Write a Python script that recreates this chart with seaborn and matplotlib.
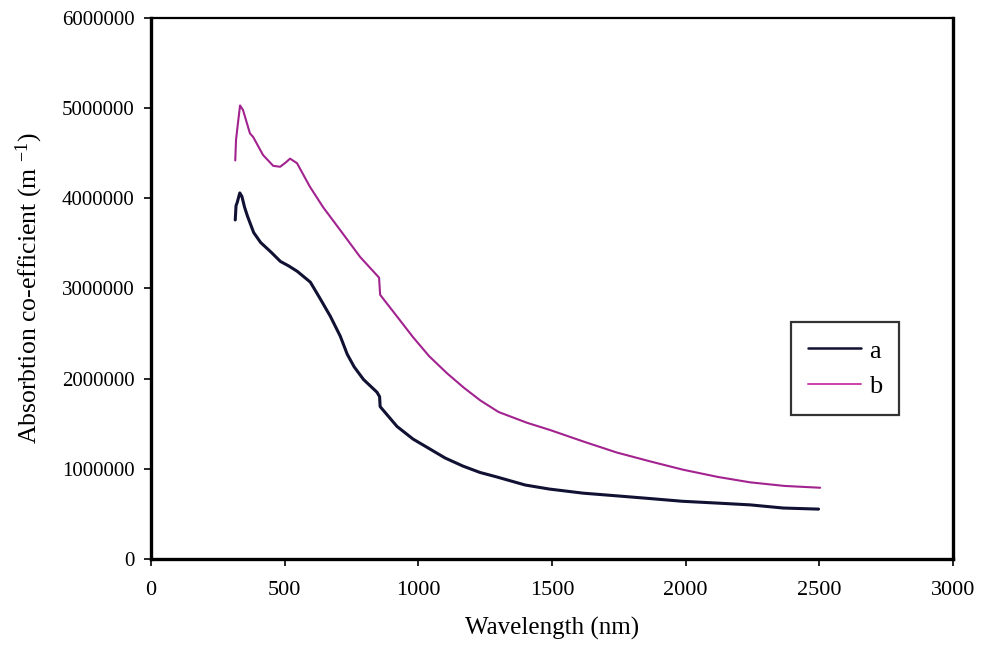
import matplotlib
matplotlib.use("Agg")
import matplotlib.pyplot as plt
from matplotlib.ticker import FuncFormatter, MultipleLocator
from matplotlib.lines import Line2D
import seaborn as sns
import pandas as pd

# ---- data ----
wavelength_a = [315, 318, 322, 332, 340, 350, 361, 384, 410, 450, 484, 515, 547, 596, 634,
                671, 708, 734, 760, 795, 845, 855, 857, 920, 980, 1043, 1100, 1167, 1230,
                1293, 1400, 1491, 1616, 1743, 1867, 1987, 2117, 2241, 2365, 2497]
absorption_a = [3760000, 3920000, 3950000, 4060000, 4020000, 3900000, 3800000, 3620000,
                3510000, 3400000, 3300000, 3250000, 3190000, 3070000, 2880000, 2690000,
                2470000, 2270000, 2130000, 1990000, 1850000, 1800000, 1690000, 1470000,
                1330000, 1220000, 1120000, 1030000, 960000, 910000, 820000, 775000,
                730000, 700000, 670000, 640000, 620000, 600000, 565000, 553000]

wavelength_b = [315, 318, 325, 333, 344, 370, 382, 419, 457, 483, 505, 520, 546, 594,
                644, 707, 782, 853, 857, 920, 980, 1040, 1107, 1170, 1231, 1300, 1407,
                1493, 1620, 1743, 1870, 1990, 2120, 2241, 2370, 2503]
absorption_b = [4420000, 4650000, 4830000, 5030000, 4980000, 4720000, 4680000, 4480000,
                4360000, 4350000, 4400000, 4440000, 4390000, 4130000, 3900000, 3650000,
                3350000, 3120000, 2930000, 2690000, 2460000, 2250000, 2060000, 1900000,
                1760000, 1630000, 1510000, 1430000, 1300000, 1180000, 1080000, 990000,
                910000, 850000, 810000, 790000]

series_names = ["a", "b"]
series_colors = {"a": "#111133", "b": "#a2238f"}

df = pd.concat([
    pd.DataFrame({"Wavelength": wavelength_a, "Absorption": absorption_a, "series": "a"}),
    pd.DataFrame({"Wavelength": wavelength_b, "Absorption": absorption_b, "series": "b"}),
], ignore_index=True)

sns.set_style("ticks")
plt.rcParams["font.family"] = ["Liberation Serif", "DejaVu Serif"]
plt.rcParams["mathtext.fontset"] = "custom"
plt.rcParams["mathtext.rm"] = "Liberation Serif"
plt.rcParams["mathtext.it"] = "Liberation Serif:italic"
plt.rcParams["text.color"] = "black"
plt.rcParams["axes.labelcolor"] = "black"

fig = plt.figure(figsize=(9.82, 6.54), dpi=100)
ax = fig.add_axes([0.1538, 0.1453, 0.8167, 0.8272])

sns.lineplot(data=df, x="Wavelength", y="Absorption", hue="series",
             hue_order=series_names, palette=series_colors, ax=ax,
             sort=False, estimator=None, legend=False)
lines = ax.get_lines()
lines[0].set_linewidth(2.2)
lines[1].set_linewidth(1.5)

ax.set_xlim(0, 3000)
ax.set_ylim(0, 6000000)
ax.xaxis.set_major_locator(MultipleLocator(500))
ax.yaxis.set_major_locator(MultipleLocator(1000000))
ax.yaxis.set_major_formatter(FuncFormatter(lambda v, p: f"{int(round(v))}"))
ax.tick_params(axis="both", colors="black", labelcolor="black", length=5, width=1.2,
               direction="out")
ax.tick_params(axis="y", labelsize=15, pad=7)
ax.tick_params(axis="x", labelsize=16, pad=11)

ax.set_xlabel("Wavelength (nm)", fontsize=18, labelpad=12, color="black")
ax.set_ylabel("Absorbtion co-efficient (m $^{-1}$)", fontsize=18.5, labelpad=12,
              color="black")

for side in ["left", "bottom", "right"]:
    ax.spines[side].set_linewidth(2.4)
    ax.spines[side].set_color("black")
ax.spines["top"].set_linewidth(1.6)
ax.spines["top"].set_color("black")
ax.spines["top"].set_visible(True)
ax.spines["right"].set_visible(True)

handles = [Line2D([], [], color=series_colors["a"], lw=1.8),
           Line2D([], [], color="#d040a8", lw=1.4)]
leg = ax.legend(handles, series_names, loc="upper left",
                bbox_to_anchor=(0.798, 0.438),
                fontsize=19, frameon=True, fancybox=False, handlelength=2.0,
                handletextpad=0.3, borderpad=0.65, labelspacing=0.45,
                borderaxespad=0.0)
leg.get_frame().set_edgecolor("black")
leg.get_frame().set_linewidth(1.6)
for t in leg.get_texts():
    t.set_color("black")

fig.savefig("out.png", dpi=100, facecolor="white")
